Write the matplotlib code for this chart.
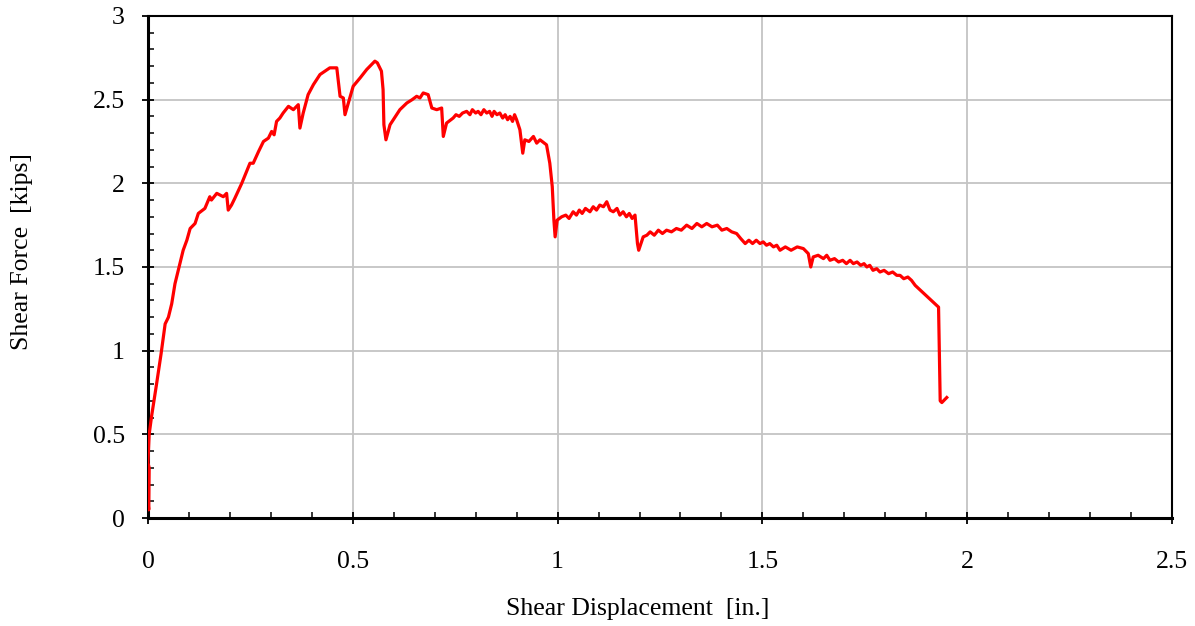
import numpy as np
import matplotlib.pyplot as plt
from matplotlib.ticker import MultipleLocator

# shear test curve
disp = [0.000, 0.000, 0.002, 0.003, 0.000, 0.003, 0.009, 0.021, 0.032, 0.042, 0.050,
        0.058, 0.066, 0.078, 0.086, 0.095, 0.103, 0.115, 0.123, 0.139, 0.151,
        0.155, 0.168, 0.184, 0.192, 0.196, 0.204, 0.212, 0.229, 0.249, 0.257,
        0.270, 0.282, 0.294, 0.302, 0.308, 0.314, 0.322, 0.330, 0.343, 0.355,
        0.367, 0.371, 0.379, 0.391, 0.404, 0.420, 0.444, 0.461, 0.469, 0.477,
        0.481, 0.501, 0.518, 0.534, 0.554, 0.560, 0.570, 0.574, 0.576, 0.581,
        0.591, 0.599, 0.615, 0.632, 0.645, 0.656, 0.664, 0.672, 0.684, 0.693,
        0.705, 0.717, 0.721, 0.729, 0.745, 0.752, 0.760, 0.768, 0.778, 0.786,
        0.792, 0.800, 0.806, 0.813, 0.820, 0.827, 0.834, 0.840, 0.845, 0.852,
        0.859, 0.866, 0.872, 0.878, 0.884, 0.890, 0.895, 0.900, 0.908, 0.915,
        0.920, 0.930, 0.941, 0.949, 0.957, 0.973, 0.981, 0.987, 0.991, 0.994,
        0.999, 1.010, 1.020, 1.028, 1.038, 1.046, 1.053, 1.060, 1.068, 1.079,
        1.087, 1.095, 1.103, 1.112, 1.120, 1.128, 1.136, 1.145, 1.152, 1.160,
        1.168, 1.175, 1.182, 1.189, 1.195, 1.198, 1.209, 1.218, 1.226, 1.236,
        1.246, 1.256, 1.266, 1.278, 1.290, 1.302, 1.315, 1.328, 1.340, 1.352,
        1.364, 1.377, 1.390, 1.401, 1.413, 1.425, 1.437, 1.447, 1.458, 1.467,
        1.476, 1.485, 1.494, 1.502, 1.510, 1.518, 1.527, 1.535, 1.543, 1.556,
        1.570, 1.585, 1.600, 1.612, 1.618, 1.624, 1.636, 1.649, 1.657, 1.665,
        1.676, 1.686, 1.696, 1.705, 1.714, 1.722, 1.731, 1.740, 1.748, 1.755,
        1.762, 1.770, 1.779, 1.787, 1.797, 1.808, 1.818, 1.828, 1.836, 1.845,
        1.855, 1.864, 1.873, 1.930, 1.934, 1.938, 1.950]
force = [0.05, 0.10, 0.05, 0.30, 0.33, 0.50, 0.61, 0.80, 0.98, 1.16, 1.20,
         1.28, 1.40, 1.52, 1.60, 1.66, 1.73, 1.76, 1.82, 1.85, 1.92,
         1.90, 1.94, 1.92, 1.94, 1.84, 1.87, 1.91, 2.00, 2.12, 2.12,
         2.19, 2.25, 2.27, 2.31, 2.29, 2.37, 2.39, 2.42, 2.46, 2.44,
         2.47, 2.33, 2.42, 2.53, 2.59, 2.65, 2.69, 2.69, 2.52, 2.51,
         2.41, 2.58, 2.63, 2.68, 2.73, 2.72, 2.67, 2.56, 2.35, 2.26,
         2.35, 2.38, 2.44, 2.48, 2.50, 2.52, 2.51, 2.54, 2.53, 2.45,
         2.44, 2.45, 2.28, 2.36, 2.39, 2.41, 2.40, 2.42, 2.43, 2.41,
         2.44, 2.42, 2.43, 2.41, 2.44, 2.42, 2.43, 2.40, 2.43, 2.41,
         2.42, 2.39, 2.41, 2.38, 2.40, 2.37, 2.41, 2.38, 2.32, 2.18,
         2.26, 2.25, 2.28, 2.24, 2.26, 2.23, 2.12, 1.98, 1.78, 1.68,
         1.78, 1.80, 1.81, 1.79, 1.83, 1.81, 1.84, 1.82, 1.85, 1.83,
         1.86, 1.84, 1.87, 1.86, 1.89, 1.84, 1.83, 1.85, 1.81, 1.83,
         1.80, 1.82, 1.79, 1.81, 1.64, 1.60, 1.68, 1.69, 1.71, 1.69,
         1.72, 1.70, 1.72, 1.71, 1.73, 1.72, 1.75, 1.73, 1.76, 1.74,
         1.76, 1.74, 1.75, 1.72, 1.73, 1.71, 1.70, 1.67, 1.64, 1.66,
         1.64, 1.66, 1.64, 1.65, 1.63, 1.64, 1.62, 1.63, 1.60, 1.62,
         1.60, 1.62, 1.61, 1.58, 1.50, 1.56, 1.57, 1.55, 1.57, 1.54,
         1.55, 1.53, 1.54, 1.52, 1.54, 1.52, 1.53, 1.51, 1.52, 1.50,
         1.51, 1.48, 1.49, 1.47, 1.48, 1.46, 1.47, 1.45, 1.45, 1.43,
         1.44, 1.42, 1.39, 1.26, 0.70, 0.69, 0.72]

plt.rcParams['font.family'] = ['Liberation Serif', 'DejaVu Serif']

fig = plt.figure(figsize=(11.95, 6.26), dpi=100)
ax = fig.add_axes([0.1238, 0.1725, 0.857, 0.802])

ax.plot(disp, force, color='#ff0000', linewidth=2.3, zorder=3)

ax.set_xlim(0, 2.5)
ax.set_ylim(0, 3)
ax.set_xticks([0, 0.5, 1, 1.5, 2, 2.5])
ax.set_yticks([0, 0.5, 1, 1.5, 2, 2.5, 3])
ax.set_xticklabels(['0', '0.5', '1', '1.5', '2', '2.5'])
ax.set_yticklabels(['0', '0.5', '1', '1.5', '2', '2.5', '3'])
ax.xaxis.set_minor_locator(MultipleLocator(0.1))
ax.yaxis.set_minor_locator(MultipleLocator(0.1))

ax.grid(True, which='major', color='#c4c4c4', linewidth=1.3, zorder=0)
ax.tick_params(which='major', direction='inout', length=9, width=1.3,
               labelsize=18.5)
ax.tick_params(axis='x', which='major', pad=19)
ax.tick_params(axis='y', which='major', pad=12)
ax.tick_params(which='minor', direction='in', length=4, width=1.1)

for side in ['left', 'bottom']:
    ax.spines[side].set_linewidth(2.2)
for side in ['top', 'right']:
    ax.spines[side].set_linewidth(1.5)

ax.set_xlabel('Shear Displacement  [in.]', fontsize=18.5)
ax.set_ylabel('Shear Force  [kips]', fontsize=18.5)
ax.xaxis.set_label_coords(0.4785, -0.159)
ax.yaxis.set_label_coords(-0.112, 0.53)

fig.savefig('out.png', dpi=100)
